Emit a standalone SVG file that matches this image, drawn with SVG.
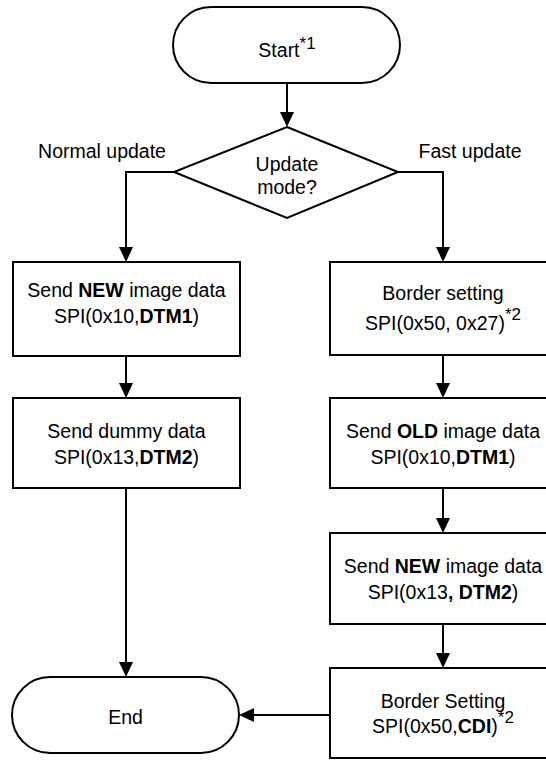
<svg xmlns="http://www.w3.org/2000/svg" width="546" height="760" viewBox="0 0 546 760">
<style>
  .shape { fill: #ffffff; stroke: #000000; stroke-width: 2; }
  .conn { fill: none; stroke: #000000; stroke-width: 2; }
  text { font-family: "Liberation Sans", Arial, sans-serif; font-size: 19.5px; fill: #000000; }
  .c { text-anchor: middle; }
  .b { font-weight: bold; }
  .sup { font-size: 17px; }
</style>
<defs>
  <marker id="arrow" markerUnits="userSpaceOnUse" markerWidth="15" markerHeight="14" refX="11" refY="7" orient="auto">
    <path d="M0,0 L15,7 L0,14 z" fill="#000000"/>
  </marker>
</defs>
<rect width="546" height="760" fill="#ffffff"/>

<g id="connectors">
  <line class="conn" x1="287" y1="83" x2="287" y2="123" marker-end="url(#arrow)"/>
  <path class="conn" d="M174,172 H126 V258" marker-end="url(#arrow)"/>
  <path class="conn" d="M398,172 H443 V258" marker-end="url(#arrow)"/>
  <line class="conn" x1="126" y1="356" x2="126" y2="394" marker-end="url(#arrow)"/>
  <line class="conn" x1="126" y1="488" x2="126" y2="673" marker-end="url(#arrow)"/>
  <line class="conn" x1="443" y1="355" x2="443" y2="394" marker-end="url(#arrow)"/>
  <line class="conn" x1="443" y1="488" x2="443" y2="529" marker-end="url(#arrow)"/>
  <line class="conn" x1="443" y1="624" x2="443" y2="664" marker-end="url(#arrow)"/>
  <line class="conn" x1="330" y1="715" x2="243" y2="715" marker-end="url(#arrow)"/>
</g>

<g id="label-normal">
  <text class="c" x="102" y="158">Normal update</text>
</g>
<g id="label-fast">
  <text class="c" x="470" y="158">Fast update</text>
</g>

<g id="start">
  <rect class="shape" x="173" y="7" width="227" height="76" rx="38" ry="38"/>
  <text class="c" x="287" y="57">Start<tspan class="sup" dy="-8">*1</tspan></text>
</g>

<g id="decision">
  <polygon class="shape" points="287,127 398,172 287,218 174,172"/>
  <text class="c" x="287" y="171">Update</text>
  <text class="c" x="287" y="194">mode?</text>
</g>

<g id="send-new-normal">
  <rect class="shape" x="13" y="262" width="227" height="94"/>
  <text class="c" x="126.5" y="297">Send <tspan class="b">NEW</tspan> image data</text>
  <text class="c" x="126.5" y="323">SPI(0x10,<tspan class="b">DTM1</tspan>)</text>
</g>

<g id="send-dummy">
  <rect class="shape" x="13" y="398" width="227" height="90"/>
  <text class="c" x="126.5" y="438">Send dummy data</text>
  <text class="c" x="126.5" y="464">SPI(0x13,<tspan class="b">DTM2</tspan>)</text>
</g>

<g id="border-setting-1">
  <rect class="shape" x="330" y="262" width="230" height="93"/>
  <text class="c" x="443" y="300">Border setting</text>
  <text class="c" x="443" y="330">SPI(0x50, 0x27)<tspan class="sup" dy="-10">*2</tspan></text>
</g>

<g id="send-old">
  <rect class="shape" x="330" y="398" width="230" height="90"/>
  <text class="c" x="443" y="438">Send <tspan class="b">OLD</tspan> image data</text>
  <text class="c" x="443" y="464">SPI(0x10,<tspan class="b">DTM1</tspan>)</text>
</g>

<g id="send-new-fast">
  <rect class="shape" x="330" y="533" width="230" height="91"/>
  <text class="c" x="443" y="573">Send <tspan class="b">NEW</tspan> image data</text>
  <text class="c" x="443" y="599">SPI(0x13<tspan class="b">, DTM2</tspan>)</text>
</g>

<g id="border-setting-2">
  <rect class="shape" x="330" y="668" width="230" height="90"/>
  <text class="c" x="443" y="708">Border Setting</text>
  <text class="c" x="443" y="733">SPI(0x50,<tspan class="b">CDI</tspan>)<tspan class="sup" dy="-10">*2</tspan></text>
</g>

<g id="end">
  <rect class="shape" x="12" y="677" width="227" height="76" rx="38" ry="38"/>
  <text class="c" x="125.5" y="724">End</text>
</g>
</svg>
